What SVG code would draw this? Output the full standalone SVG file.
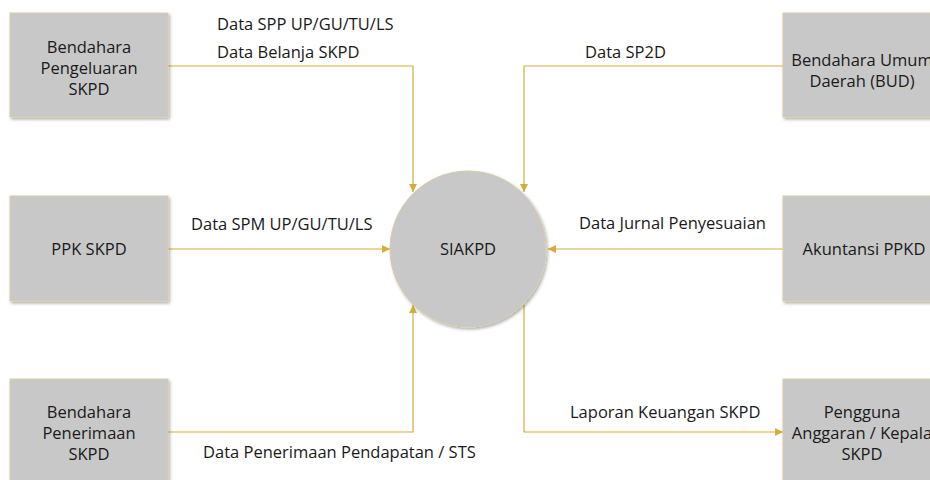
<svg xmlns="http://www.w3.org/2000/svg" width="930" height="480" viewBox="0 0 930 480">
  <style>
    .box { fill: #c8c8c8; stroke: #d8cca4; stroke-width: 1; filter: url(#shadow); }
    .node-text { font-family: "Open Sans", "Noto Sans", "Liberation Sans", sans-serif; font-size: 16.5px; fill: #1a1a1a; text-anchor: middle; }
    .label { font-family: "Open Sans", "Noto Sans", "Liberation Sans", sans-serif; font-size: 16.5px; fill: #1a1a1a; }
    .flow { fill: none; stroke: #d4ad3a; stroke-width: 1.2; marker-end: url(#arrow); }
  </style>
  <defs>
    <filter id="shadow" x="-10%" y="-10%" width="130%" height="130%">
      <feDropShadow dx="1.5" dy="2" stdDeviation="1.8" flood-color="#000" flood-opacity="0.3"/>
    </filter>
    <marker id="arrow" viewBox="0 0 10 10" refX="10" refY="5" markerWidth="8" markerHeight="8" markerUnits="userSpaceOnUse" orient="auto">
      <path d="M0,0 L10,5 L0,10 Z" fill="#d4ad3a"/>
    </marker>
  </defs>

  <rect width="930" height="480" fill="#ffffff"/>

  <!-- connectors -->
  <g id="connectors">
    <path class="flow" d="M168,66 H413 V192"/>
    <path class="flow" d="M783,66 H524 V192"/>
    <path class="flow" d="M168,249 H390"/>
    <path class="flow" d="M783,249 H548"/>
    <path class="flow" d="M168,432 H413 V305"/>
    <path class="flow" d="M524,305 V432 H783"/>
  </g>

  <!-- connector labels -->
  <g id="labels">
    <text class="label" x="217" y="30">Data SPP UP/GU/TU/LS</text>
    <text class="label" x="217" y="58">Data Belanja SKPD</text>
    <text class="label" x="585" y="58">Data SP2D</text>
    <text class="label" x="191" y="230">Data SPM UP/GU/TU/LS</text>
    <text class="label" x="579" y="229">Data Jurnal Penyesuaian</text>
    <text class="label" x="570" y="418">Laporan Keuangan SKPD</text>
    <text class="label" x="203" y="458">Data Penerimaan Pendapatan / STS</text>
  </g>

  <g id="bendahara-pengeluaran">
    <rect class="box" x="10" y="13" width="158" height="104"/>
    <text class="node-text" x="89" y="53">Bendahara</text>
    <text class="node-text" x="89" y="74">Pengeluaran</text>
    <text class="node-text" x="89" y="95">SKPD</text>
  </g>

  <g id="ppk-skpd">
    <rect class="box" x="10" y="196" width="158" height="105"/>
    <text class="node-text" x="89" y="255">PPK SKPD</text>
  </g>

  <g id="bendahara-penerimaan">
    <rect class="box" x="10" y="379" width="158" height="110"/>
    <text class="node-text" x="89" y="418">Bendahara</text>
    <text class="node-text" x="89" y="439">Penerimaan</text>
    <text class="node-text" x="89" y="460">SKPD</text>
  </g>

  <g id="siakpd">
    <circle class="box" cx="468" cy="249" r="78"/>
    <text class="node-text" x="468" y="255">SIAKPD</text>
  </g>

  <g id="bud">
    <rect class="box" x="783" y="13" width="158" height="104"/>
    <text class="node-text" x="862" y="66">Bendahara Umum</text>
    <text class="node-text" x="862" y="87">Daerah (BUD)</text>
  </g>

  <g id="akuntansi-ppkd">
    <rect class="box" x="783" y="196" width="158" height="105"/>
    <text class="node-text" x="864" y="255">Akuntansi PPKD</text>
  </g>

  <g id="pengguna-anggaran">
    <rect class="box" x="783" y="379" width="158" height="110"/>
    <text class="node-text" x="862" y="418">Pengguna</text>
    <text class="node-text" x="862" y="439">Anggaran / Kepala</text>
    <text class="node-text" x="862" y="460">SKPD</text>
  </g>
</svg>
